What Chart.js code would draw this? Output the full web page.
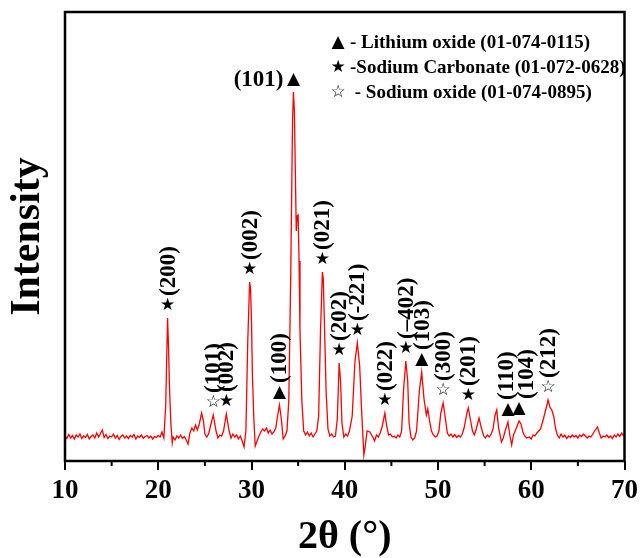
<!DOCTYPE html>
<html>
<head>
<meta charset="utf-8">
<script src="https://cdn.jsdelivr.net/npm/chart.js@4/dist/chart.umd.min.js"></script>
<style>
  html, body { margin: 0; padding: 0; background: #fff; }
  #wrap { width: 643px; height: 558px; }
</style>
</head>
<body>
<div id="wrap"><canvas id="xrd"></canvas></div>
<script>
// 2-theta scan
const twoTheta = [
  10.0, 10.2, 10.4, 10.6, 10.8, 11.0, 11.2, 11.4, 11.6, 11.8,
  12.0, 12.2, 12.4, 12.6, 12.8, 13.0, 13.2, 13.4, 13.6, 13.8,
  14.0, 14.2, 14.4, 14.6, 14.8, 15.0, 15.2, 15.4, 15.6, 15.8,
  16.0, 16.2, 16.4, 16.6, 16.8, 17.0, 17.2, 17.4, 17.6, 17.8,
  18.0, 18.2, 18.4, 18.6, 18.8, 19.0, 19.2, 19.4, 19.6, 19.8,
  20.0, 20.2, 20.4, 20.6, 20.8, 20.9, 21.0, 21.1, 21.2, 21.35,
  21.5, 21.6, 21.8, 22.0, 22.2, 22.4, 22.6, 22.8, 23.0, 23.2,
  23.4, 23.6, 23.8, 24.0, 24.2, 24.4, 24.65, 24.85, 25.0, 25.2,
  25.4, 25.6, 25.9, 26.2, 26.4, 26.6, 26.8, 27.0, 27.3, 27.6,
  27.8, 28.0, 28.2, 28.4, 28.6, 28.8, 29.0, 29.2, 29.4, 29.6,
  29.8, 29.9, 30.0, 30.1, 30.25, 30.4, 30.6, 30.8, 31.0, 31.2,
  31.4, 31.6, 31.8, 32.0, 32.2, 32.4, 32.6, 32.8, 33.0, 33.2,
  33.4, 33.6, 33.8, 34.0, 34.2, 34.4, 34.5, 34.6, 34.7, 34.8,
  34.9, 35.0, 35.1, 35.2, 35.4, 35.6, 35.8, 36.0, 36.2, 36.4,
  36.6, 36.8, 37.0, 37.2, 37.4, 37.6, 37.7, 37.8, 38.0, 38.2,
  38.4, 38.6, 38.8, 39.0, 39.2, 39.4, 39.55, 39.7, 39.9, 40.1,
  40.3, 40.5, 40.8, 41.1, 41.35, 41.6, 41.8, 42.05, 42.2, 42.4,
  42.7, 43.0, 43.2, 43.4, 43.6, 43.8, 44.0, 44.3, 44.5, 44.7,
  44.9, 45.1, 45.3, 45.5, 45.7, 45.9, 46.1, 46.3, 46.55, 46.75,
  46.9, 47.1, 47.3, 47.5, 47.7, 48.0, 48.25, 48.5, 48.75, 48.9,
  49.1, 49.3, 49.5, 49.7, 49.9, 50.1, 50.3, 50.55, 50.8, 51.0,
  51.2, 51.4, 51.6, 51.8, 52.0, 52.2, 52.4, 52.6, 52.8, 53.1,
  53.25, 53.5, 53.7, 53.9, 54.1, 54.4, 54.6, 54.9, 55.1, 55.3,
  55.5, 55.7, 55.9, 56.1, 56.3, 56.5, 56.8, 57.0, 57.2, 57.5,
  57.7, 57.9, 58.1, 58.4, 58.7, 58.9, 59.1, 59.3, 59.5, 59.8,
  60.0, 60.2, 60.4, 60.6, 60.8, 61.0, 61.3, 61.6, 61.8, 62.0,
  62.2, 62.4, 62.6, 62.8, 63.0, 63.2, 63.4, 63.6, 63.8, 64.0,
  64.2, 64.4, 64.6, 64.8, 65.0, 65.2, 65.4, 65.6, 65.8, 66.0,
  66.2, 66.4, 66.6, 66.8, 67.1, 67.3, 67.5, 67.7, 67.9, 68.1,
  68.3, 68.5, 68.7, 68.9, 69.1, 69.3, 69.5, 69.7, 69.9, 70.0
];
const counts = [
  250, 225, 265, 230, 255, 220, 260, 240, 270, 225,
  250, 235, 265, 220, 245, 260, 230, 280, 240, 275,
  310, 235, 265, 225, 250, 240, 270, 230, 255, 215,
  245, 260, 230, 250, 225, 255, 240, 265, 220, 250,
  235, 260, 225, 245, 255, 230, 250, 220, 245, 235,
  255, 240, 290, 230, 550, 1000, 1430, 1150, 750, 380,
  180, 240, 210, 250, 230, 260, 225, 245, 210, 170,
  280, 330, 300, 360, 310, 370, 480, 400, 270, 240,
  270, 350, 460, 300, 230, 260, 250, 300, 470, 300,
  230, 270, 240, 260, 220, 250, 200, 140, 300, 1200,
  1790, 1720, 1400, 850, 420, 150, 200, 250, 290, 320,
  300, 330, 280, 310, 270, 290, 330, 450, 560, 420,
  220, 250, 300, 600, 1800, 3400, 3690, 3500, 2900, 2300,
  2450, 2460, 2000, 1300, 600, 300, 260, 290, 250, 280,
  240, 270, 300, 450, 1300, 1890, 1820, 1450, 700, 320,
  250, 270, 240, 250, 420, 980, 800, 380, 240, 270,
  250, 300, 450, 1000, 1180, 950, 520, 60, 150, 300,
  290, 240, 200, 260, 240, 280, 340, 480, 350, 260,
  270, 240, 250, 230, 260, 240, 300, 700, 1000, 800,
  380, 240, 210, 230, 300, 700, 890, 620, 460, 520,
  400, 300, 260, 240, 250, 300, 480, 580, 420, 280,
  250, 270, 240, 265, 235, 255, 240, 270, 330, 480,
  530, 400, 300, 260, 320, 430, 350, 250, 230, 260,
  240, 270, 320, 450, 510, 330, 190, 230, 300, 390,
  260, 160, 260, 330, 400, 370, 290, 250, 230, 240,
  220, 260, 250, 280, 300, 320, 420, 530, 610, 540,
  510, 450, 330, 260, 230, 270, 240, 260, 225, 250,
  235, 260, 240, 255, 230, 260, 245, 270, 250, 230,
  250, 240, 270, 300, 340, 280, 230, 250, 240, 260,
  235, 250, 225, 260, 240, 270, 245, 280, 250, 260
];

// indexed reflections
const peakAngles = [21.0, 25.9, 27.3, 29.8, 33.0, 34.5, 37.6, 39.4, 41.35, 44.3, 46.55, 48.25, 50.55, 53.25, 57.5, 58.7, 61.8];
const peakHkl = ['(200)', '(101)', '(002)', '(002)', '(100)', '(101)', '(021)', '(202)', '(-221)', '(022)', '(\u2013402)', '(103)', '(300)', '(201)', '(110)', '(104)', '(212)'];
const peakPhase = ['C', 'O', 'C', 'C', 'L', 'L', 'C', 'C', 'C', 'C', 'C', 'L', 'O', 'C', 'L', 'L', 'O'];

const phaseKeys = ['L', 'C', 'O'];
const phaseNames = ['- Lithium oxide (01-074-0115)', '-Sodium Carbonate (01-072-0628)', ' - Sodium oxide (01-074-0895)'];

const xTicks = [10, 20, 30, 40, 50, 60, 70];
const xMinorTicks = [15, 25, 35, 45, 55, 65];

const serif = '"Liberation Serif", "Times New Roman", serif';
const symbolFont = '"DejaVu Sans", sans-serif';
const symbols = { L: '\u25B2', C: '\u2605', O: '\u2606' };

function peakTop(angle) {
  let best = 0;
  twoTheta.forEach((t, i) => {
    if (Math.abs(t - angle) <= 0.2 && counts[i] > best) best = counts[i];
  });
  return best;
}

const xrdDecor = {
  id: 'xrdDecor',
  afterDraw(chart) {
    const { ctx, chartArea: a, scales: { x, y } } = chart;
    ctx.save();
    ctx.strokeStyle = '#000';
    ctx.fillStyle = '#000';

    // frame
    ctx.lineWidth = 2.5;
    ctx.strokeRect(a.left, a.top, a.right - a.left, a.bottom - a.top);

    // minor ticks
    ctx.lineWidth = 2;
    xMinorTicks.forEach(v => {
      const px = x.getPixelForValue(v);
      ctx.beginPath();
      ctx.moveTo(px, a.bottom);
      ctx.lineTo(px, a.bottom + 5);
      ctx.stroke();
    });

    // peak markers and Miller indices
    const maxCount = Math.max(...counts);
    peakAngles.forEach((ang, i) => {
      const top = peakTop(ang);
      const px = x.getPixelForValue(ang);
      const py = y.getPixelForValue(top) - 12;
      // pull apart labels of peaks that sit very close together
      let tx = px;
      if (i < peakAngles.length - 1 && peakAngles[i + 1] - ang < 1.3) tx -= 2;
      if (i > 0 && ang - peakAngles[i - 1] < 1.3) tx += 7;

      ctx.font = `17px ${symbolFont}`;
      ctx.textAlign = 'center';
      ctx.textBaseline = 'middle';
      ctx.fillText(symbols[peakPhase[i]], px, py);

      ctx.font = `bold 23px ${serif}`;
      if (top === maxCount) {
        ctx.textAlign = 'right';
        ctx.fillText(peakHkl[i], px - 10, py);
      } else {
        ctx.save();
        ctx.translate(tx + 1, py - 10);
        ctx.rotate(-Math.PI / 2);
        ctx.textAlign = 'left';
        ctx.fillText(peakHkl[i], 0, 0);
        ctx.restore();
      }
    });

    // phase key
    phaseKeys.forEach((k, i) => {
      const ly = a.top + 31 + i * 25;
      ctx.font = `17px ${symbolFont}`;
      ctx.textAlign = 'center';
      ctx.textBaseline = 'middle';
      ctx.fillText(symbols[k], a.left + 273, ly);
      ctx.font = `bold 19px ${serif}`;
      ctx.textAlign = 'left';
      ctx.fillText(phaseNames[i], a.left + 285, ly);
    });
    ctx.restore();
  }
};

new Chart(document.getElementById('xrd'), {
  type: 'line',
  data: {
    datasets: [{
      data: twoTheta.map((t, i) => ({ x: t, y: counts[i] })),
      borderColor: '#ff0000',
      borderWidth: 1.3,
      pointRadius: 0,
      tension: 0,
      fill: false
    }]
  },
  options: {
    responsive: true,
    maintainAspectRatio: false,
    animation: false,
    layout: { padding: { top: 12, right: 18, left: 0, bottom: 0 } },
    plugins: { legend: { display: false }, tooltip: { enabled: false } },
    scales: {
      x: {
        type: 'linear',
        min: 10,
        max: 70,
        afterFit: s => { s.height = 97; },
        afterBuildTicks: s => { s.ticks = xTicks.map(v => ({ value: v })); },
        border: { display: false },
        grid: { display: true, drawOnChartArea: false, drawTicks: true, tickLength: 9, color: '#000', lineWidth: 2 },
        ticks: { color: '#000', padding: 5, maxRotation: 0, autoSkip: false, font: { family: serif, size: 27, weight: 'bold' } },
        title: { display: true, text: '2\u03B8 (\u00B0)', color: '#000', padding: 0, font: { family: serif, size: 40, weight: 'bold', lineHeight: 1 } }
      },
      y: {
        min: 0,
        max: 4490,
        afterFit: s => { s.width = 65; },
        border: { display: false },
        grid: { display: false },
        ticks: { display: false },
        title: { display: true, text: 'Intensity', color: '#000', padding: { top: 7, bottom: 0 }, font: { family: serif, size: 42, weight: 'bold', lineHeight: 1 } }
      }
    }
  },
  plugins: [xrdDecor]
});
</script>
</body>
</html>
